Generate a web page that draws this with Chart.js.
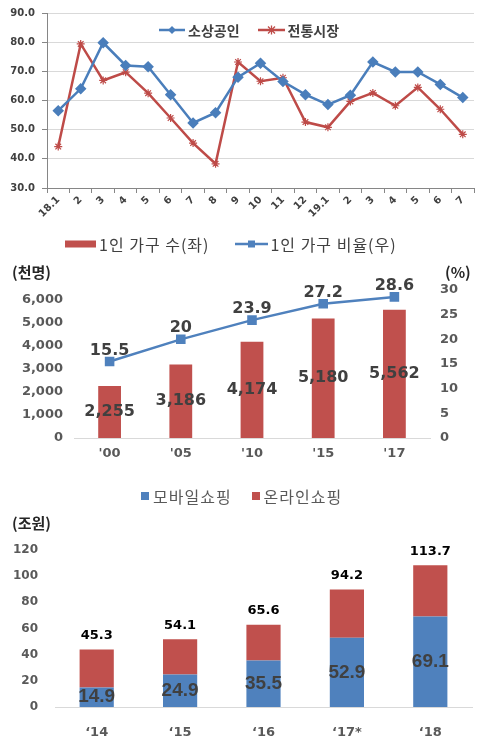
<!DOCTYPE html>
<html>
<head>
<meta charset="utf-8">
<script src="https://cdn.jsdelivr.net/npm/chart.js@4.4.1/dist/chart.umd.min.js"></script>
<style>
  body { margin: 0; background: #fff; }
  #page { position: relative; width: 487px; height: 752px; overflow: hidden; font-family: "Noto Sans CJK KR", sans-serif; }
  .box { position: absolute; left: 0; width: 487px; }
  .legend { position: absolute; display: flex; align-items: center; white-space: nowrap; height: 20px; line-height: 20px; }
  .legend svg { display: block; }
  .unit { position: absolute; height: 20px; line-height: 20px; font-weight: bold; font-size: 15px; color: #262626; white-space: nowrap; }
</style>
</head>
<body>
<div id="page">
  <div class="box" style="top:0;height:225px"><canvas id="trendChart"></canvas></div>
  <div class="box" style="top:225px;height:250px"><canvas id="householdChart"></canvas></div>
  <div class="box" style="top:475px;height:277px"><canvas id="shoppingChart"></canvas></div>

  <!-- chart 1 legend (sits inside the plot) -->
  <div class="legend" style="left:159px;top:20px;font-weight:bold;font-size:14px;color:#404040">
    <svg width="26" height="10"><line x1="0" y1="5" x2="26" y2="5" stroke="#4A7EBB" stroke-width="2.5"/><path d="M13 1 L17 5 L13 9 L9 5Z" fill="#4A7EBB"/></svg>
    <span style="margin-left:3px">소상공인</span>
    <svg width="27" height="10" style="margin-left:18px"><line x1="0" y1="5" x2="27" y2="5" stroke="#BE4B48" stroke-width="2.5"/><path d="M10 1.5 L17 8.5 M17 1.5 L10 8.5 M13.5 0.5 L13.5 9.5" stroke="#BE4B48" stroke-width="1.3"/></svg>
    <span style="margin-left:3px">전통시장</span>
  </div>

  <!-- chart 2 legend + units -->
  <div class="legend" style="left:65px;top:234px;font-size:16px;letter-spacing:1px;color:#404040">
    <svg width="31" height="8"><rect x="0" y="0.5" width="31" height="7" fill="#C0504D"/></svg>
    <span style="margin-left:3px">1인 가구 수(좌)</span>
    <svg width="33" height="10" style="margin-left:26px"><line x1="0" y1="5" x2="33" y2="5" stroke="#4F81BD" stroke-width="2.5"/><rect x="13" y="1.5" width="7" height="7" fill="#4F81BD"/></svg>
    <span style="margin-left:2px">1인 가구 비율(우)</span>
  </div>
  <div class="unit" style="left:12px;top:262px">(천명)</div>
  <div class="unit" style="left:445px;top:262px">(%)</div>

  <!-- chart 3 legend + unit -->
  <div class="legend" style="left:141px;top:486px;font-size:16px;letter-spacing:1px;color:#595959">
    <svg width="8" height="8"><rect x="0" y="0" width="8" height="8" fill="#4F81BD"/></svg>
    <span style="margin-left:4px">모바일쇼핑</span>
    <svg width="8" height="8" style="margin-left:20px"><rect x="0" y="0" width="8" height="8" fill="#C0504D"/></svg>
    <span style="margin-left:4px">온라인쇼핑</span>
  </div>
  <div class="unit" style="left:12px;top:513px">(조원)</div>
</div>

<script>
// ---- chart 1: 체감경기 (소상공인 / 전통시장)
const months = ['18.1', '2', '3', '4', '5', '6', '7', '8', '9', '10', '11', '12', '19.1', '2', '3', '4', '5', '6', '7'];
const smallBiz = [56.5, 64.0, 79.8, 72.0, 71.6, 62.0, 52.3, 55.8, 68.0, 72.8, 66.5, 62.0, 58.6, 61.8, 73.2, 69.8, 69.8, 65.5, 61.0];
const tradMarket = [44.2, 79.4, 66.9, 69.7, 62.5, 54.0, 45.4, 38.3, 73.2, 66.6, 67.8, 52.6, 50.8, 59.7, 62.6, 58.2, 64.5, 57.0, 48.4];

// ---- chart 2: 1인 가구
const censusYears = ["'00", "'05", "'10", "'15", "'17"];
const singleHouseholds = [2255, 3186, 4174, 5180, 5562];
const singleRatio = [15.5, 20, 23.9, 27.2, 28.6];
const householdTicks = [0, 1000, 2000, 3000, 4000, 5000, 6000];

// ---- chart 3: 쇼핑 거래액
const shopYears = ['\u201814', '\u201815', '\u201816', '\u201817*', '\u201818'];
const mobileShopping = [14.9, 24.9, 35.5, 52.9, 69.1];
const onlineShopping = [29.1, 26.8, 27.3, 37.0, 39.2];
const shoppingTotals = [45.3, 54.1, 65.6, 94.2, 113.7];

const BLUE = '#4F81BD';
const RED = '#C0504D';
const NUM_FONT = 'DejaVu Sans';

Chart.defaults.font.family = NUM_FONT;
Chart.defaults.animation = false;
Chart.defaults.plugins.legend.display = false;
Chart.defaults.plugins.tooltip.enabled = false;
Chart.defaults.maintainAspectRatio = false;

// draws value labels from the element positions the library computed
function valueLabels(items) {
    return {
        id: 'valueLabels',
        afterDatasetsDraw(chart) {
            const ctx = chart.ctx;
            items.forEach(item => {
                const meta = chart.getDatasetMeta(item.dataset);
                ctx.save();
                ctx.font = item.font;
                ctx.fillStyle = item.color;
                ctx.textAlign = 'center';
                ctx.textBaseline = 'middle';
                meta.data.forEach((el, i) => {
                    const y = item.center ? (el.y + el.base) / 2 : el.y + item.dy;
                    ctx.fillText(item.text(i), el.x, y);
                });
                ctx.restore();
            });
        }
    };
}

new Chart(document.getElementById('trendChart'), {
    type: 'line',
    data: {
        labels: months,
        datasets: [
            {
                label: '소상공인',
                data: smallBiz,
                borderColor: '#4A7EBB',
                backgroundColor: '#4A7EBB',
                borderWidth: 2.5,
                pointStyle: 'rectRot',
                pointRadius: 4,
                tension: 0
            },
            {
                label: '전통시장',
                data: tradMarket,
                borderColor: '#BE4B48',
                backgroundColor: '#BE4B48',
                borderWidth: 2.5,
                pointStyle: 'star',
                pointRadius: 4,
                pointBorderWidth: 1.2,
                tension: 0
            }
        ]
    },
    options: {
        layout: { padding: { top: 12, right: 13, left: 0, bottom: 0 } },
        scales: {
            x: {
                offset: true,
                grid: { offset: true, drawOnChartArea: false, tickLength: 5, color: '#868686' },
                border: { color: '#868686' },
                ticks: { autoSkip: false, minRotation: 45, maxRotation: 45, padding: 1, color: '#404040', font: { size: 10, weight: 'bold' } },
                afterFit(s) { s.height = 37; }
            },
            y: {
                min: 30,
                max: 90,
                ticks: { stepSize: 10, padding: 7, color: '#404040', font: { size: 10, weight: 'bold' }, callback: v => v.toFixed(1) },
                grid: { color: '#D9D9D9', tickColor: '#868686', tickLength: 5 },
                border: { color: '#868686' },
                afterFit(s) { s.width = 47; }
            }
        }
    }
});

new Chart(document.getElementById('householdChart'), {
    data: {
        labels: censusYears,
        datasets: [
            {
                type: 'line',
                label: '1인 가구 비율(우)',
                data: singleRatio,
                yAxisID: 'y1',
                borderColor: BLUE,
                backgroundColor: BLUE,
                borderWidth: 2.5,
                pointStyle: 'rect',
                pointRadius: 5,
                order: 1
            },
            {
                type: 'bar',
                label: '1인 가구 수(좌)',
                data: singleHouseholds,
                yAxisID: 'y',
                backgroundColor: RED,
                categoryPercentage: 1,
                barPercentage: 0.32,
                order: 2
            }
        ]
    },
    options: {
        layout: { padding: { top: 65, bottom: 0, left: 0, right: 0 } },
        scales: {
            x: {
                grid: { display: false, drawTicks: false },
                border: { color: '#D9D9D9' },
                ticks: { padding: 8, color: '#595959', font: { size: 13, weight: 'bold' } },
                afterFit(s) { s.height = 37; }
            },
            y: {
                min: 0,
                max: 6420,
                ticks: { padding: 11, color: '#595959', font: { size: 13, weight: 'bold' }, callback: v => v.toLocaleString('en-US') },
                afterBuildTicks(s) { s.ticks = householdTicks.map(v => ({ value: v })); },
                grid: { display: false, drawTicks: false },
                border: { display: false },
                afterFit(s) { s.width = 74; }
            },
            y1: {
                position: 'right',
                min: 0,
                max: 30,
                ticks: { stepSize: 5, padding: 10, color: '#595959', font: { size: 13, weight: 'bold' } },
                grid: { display: false, drawTicks: false },
                border: { display: false },
                afterFit(s) { s.width = 57; }
            }
        }
    },
    plugins: [valueLabels([
        { dataset: 1, center: true, font: 'bold 16px ' + NUM_FONT, color: '#404040', text: i => singleHouseholds[i].toLocaleString('en-US') },
        { dataset: 0, dy: -11, font: 'bold 16px ' + NUM_FONT, color: '#404040', text: i => String(singleRatio[i]) }
    ])]
});

new Chart(document.getElementById('shoppingChart'), {
    type: 'bar',
    data: {
        labels: shopYears,
        datasets: [
            { label: '모바일쇼핑', data: mobileShopping, backgroundColor: BLUE, categoryPercentage: 1, barPercentage: 0.41 },
            { label: '온라인쇼핑', data: onlineShopping, backgroundColor: RED, categoryPercentage: 1, barPercentage: 0.41 }
        ]
    },
    options: {
        layout: { padding: { top: 75, bottom: 0, left: 0, right: 15 } },
        scales: {
            x: {
                stacked: true,
                grid: { display: false, drawTicks: false },
                border: { color: '#D9D9D9' },
                ticks: { padding: 18, color: '#595959', font: { size: 13, weight: 'bold' } },
                afterFit(s) { s.height = 45; }
            },
            y: {
                stacked: true,
                min: 0,
                max: 120,
                ticks: { stepSize: 20, padding: 17, color: '#595959', font: { size: 12, weight: 'bold' } },
                grid: { display: false, drawTicks: false },
                border: { display: false },
                afterFit(s) { s.width = 55; }
            }
        }
    },
    plugins: [valueLabels([
        { dataset: 0, center: true, font: 'bold 19px Liberation Sans', color: '#404040', text: i => mobileShopping[i].toFixed(1) },
        { dataset: 1, dy: -14, font: 'bold 13px ' + NUM_FONT, color: '#000000', text: i => shoppingTotals[i].toFixed(1) }
    ])]
});
</script>
</body>
</html>
